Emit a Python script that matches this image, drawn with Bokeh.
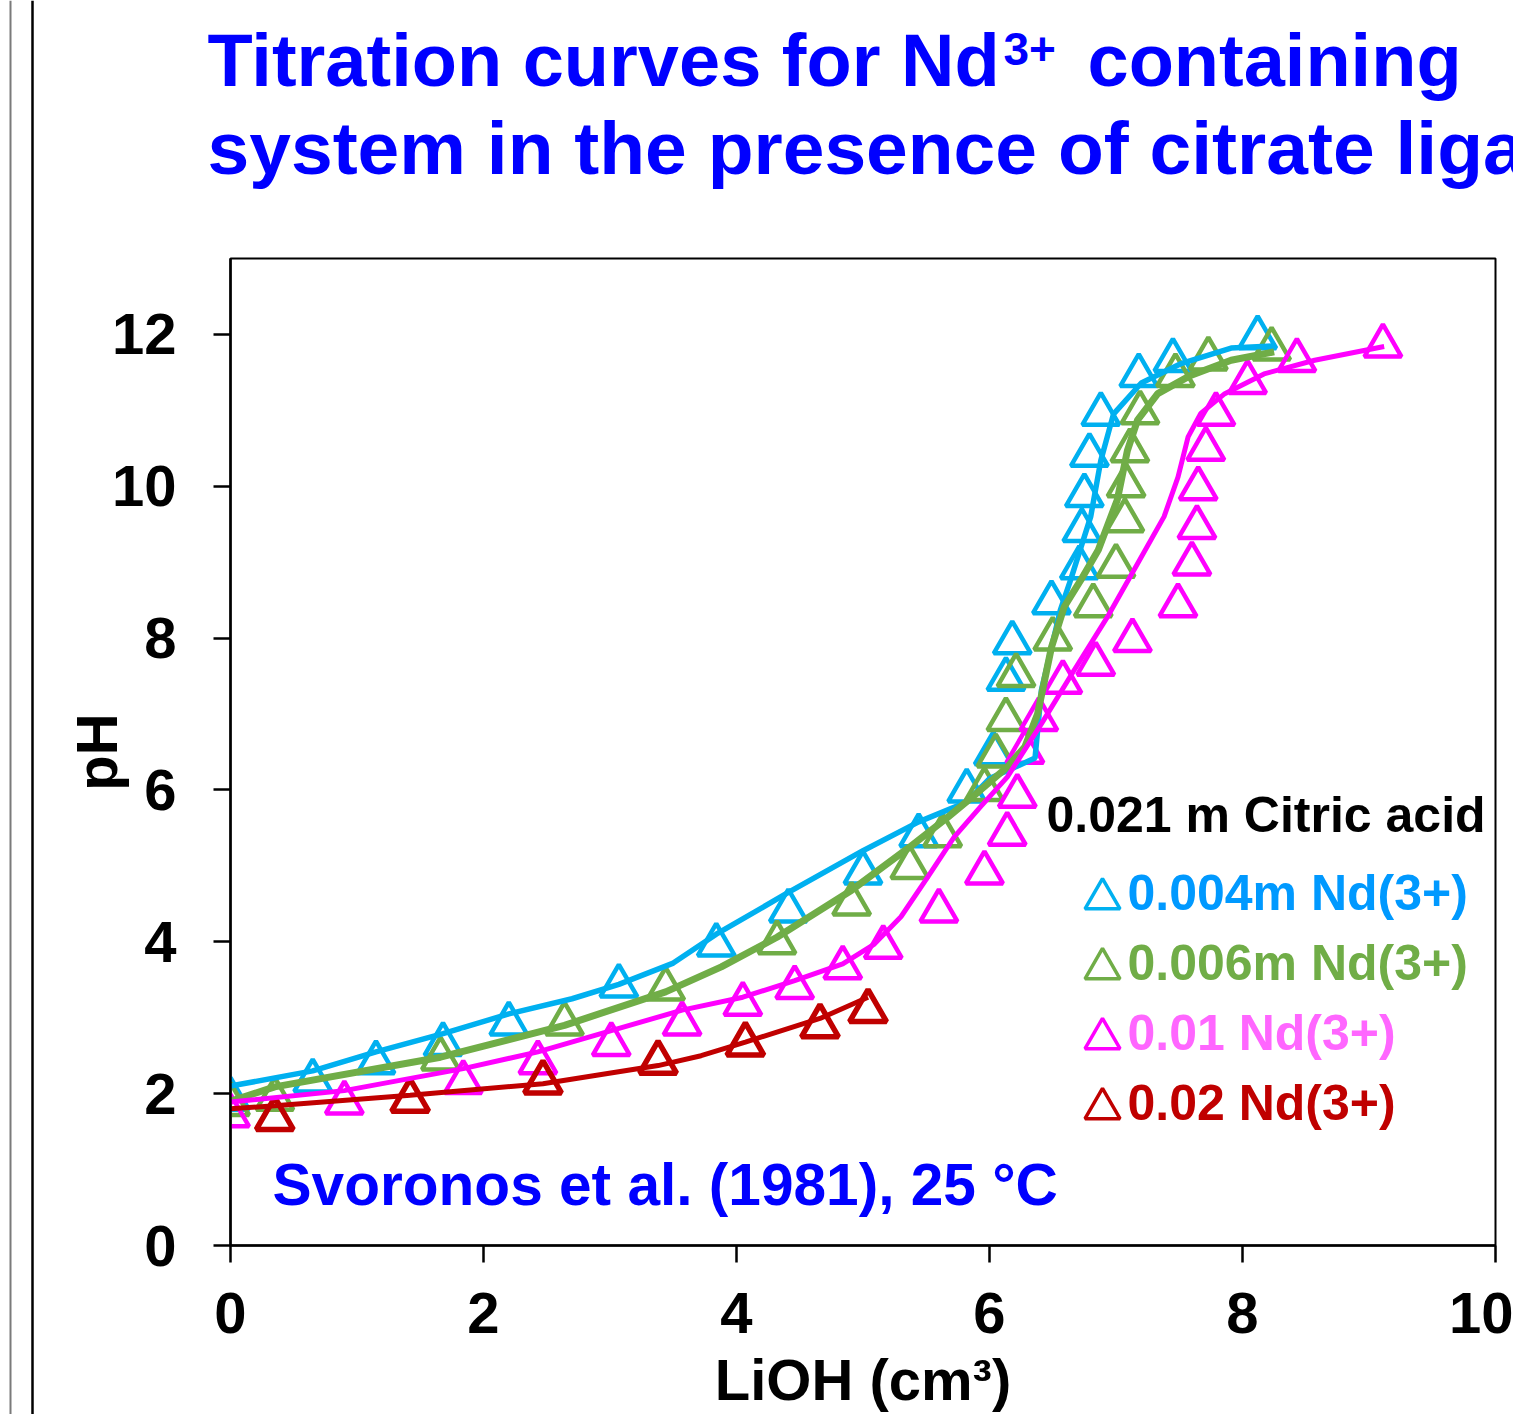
import math
from bokeh.plotting import figure
from bokeh.models import Range1d, Label, Span, ColumnDataSource, FixedTicker
from bokeh.layouts import row, column
from bokeh.transform import dodge
from bokeh.embed import file_html
from bokeh.resources import INLINE

# ---------------- data ----------------
x_ticks = [0, 2, 4, 6, 8, 10]
y_ticks = [0, 2, 4, 6, 8, 10, 12]

# 0.004 m Nd(3+) measured points
nd004_x = [0, 0.65, 1.15, 1.68, 2.2, 3.07, 3.84, 4.41, 5.0, 5.44, 5.82, 6.03, 6.13, 6.18,
           6.49, 6.71, 6.73, 6.75, 6.79, 6.88, 7.18, 7.45, 8.12]
nd004_y = [2.0, 2.24, 2.48, 2.72, 2.99, 3.49, 4.03, 4.48, 4.98, 5.47, 6.06, 6.55, 7.53, 8.01,
           8.54, 9.0, 9.49, 9.95, 10.48, 11.02, 11.53, 11.73, 12.03]
# 0.006 m Nd(3+)
nd006_x = [0, 0.35, 1.66, 2.64, 3.44, 4.32, 4.91, 5.37, 5.63, 5.96, 6.05, 6.13, 6.21, 6.5,
           6.82, 7.0, 7.07, 7.08, 7.11, 7.19, 7.47, 7.73, 8.23]
nd006_y = [1.93, 2.0, 2.53, 2.99, 3.45, 4.06, 4.57, 5.05, 5.47, 6.08, 6.52, 7.0, 7.58, 8.06,
           8.5, 9.02, 9.62, 10.08, 10.54, 11.04, 11.53, 11.75, 11.88]
# 0.01 Nd(3+)
nd01_x = [0, 0.9, 1.84, 2.43, 3.01, 3.57, 4.05, 4.46, 4.84, 5.16, 5.6, 5.96, 6.14, 6.22, 6.28,
          6.39, 6.58, 6.84, 7.13, 7.49, 7.6, 7.64, 7.65, 7.71, 7.79, 8.04, 8.43, 9.11]
nd01_y = [1.78, 1.95, 2.22, 2.48, 2.72, 2.99, 3.25, 3.47, 3.73, 4.0, 4.48, 4.98, 5.49, 5.99, 6.57,
          7.0, 7.49, 7.73, 8.04, 8.5, 9.05, 9.53, 10.04, 10.56, 11.02, 11.44, 11.73, 11.92]
# 0.02 Nd(3+)
nd02_x = [0.35, 1.42, 2.47, 3.38, 4.07, 4.66, 5.04]
nd02_y = [1.74, 1.98, 2.22, 2.48, 2.72, 2.96, 3.16]

# model curves
fit004_x = [0, 0.65, 1.15, 1.68, 2.2, 2.7, 3.07, 3.5, 3.84, 4.41, 5.0, 5.44, 5.82, 6.0, 6.2,
            6.36, 6.41, 6.56, 6.64, 6.8, 6.88, 6.98, 7.2, 7.52, 7.91, 8.25]
fit004_y = [2.1, 2.3, 2.55, 2.79, 3.05, 3.25, 3.44, 3.72, 4.1, 4.65, 5.2, 5.58, 5.84, 6.15,
            6.3, 6.42, 7.31, 8.37, 8.76, 9.6, 10.34, 10.95, 11.36, 11.62, 11.82, 11.85]
fit006_x = [0, 0.35, 1.66, 2.64, 3.44, 3.88, 4.32, 4.91, 5.37, 5.67, 5.93, 6.14, 6.28, 6.38,
            6.49, 6.59, 6.72, 6.86, 7.01, 7.09, 7.17, 7.33, 7.59, 7.91, 8.25]
fit006_y = [1.9, 2.09, 2.48, 2.9, 3.34, 3.67, 4.06, 4.68, 5.25, 5.64, 6.0, 6.3, 6.57, 7.0,
            7.88, 8.41, 8.76, 9.16, 9.82, 10.47, 10.87, 11.22, 11.46, 11.66, 11.77]
fit01_x = [0, 0.9, 1.84, 2.43, 3.01, 3.57, 4.05, 4.46, 4.84, 5.09, 5.3, 5.51, 5.72, 5.93, 6.14,
           6.41, 6.67, 6.94, 7.17, 7.38, 7.49, 7.57, 7.67, 7.86, 8.17, 8.57, 9.12]
fit01_y = [1.89, 2.04, 2.33, 2.55, 2.83, 3.1, 3.27, 3.49, 3.71, 3.97, 4.33, 4.85, 5.38, 5.78, 6.17,
           6.87, 7.58, 8.3, 8.98, 9.6, 10.12, 10.65, 10.96, 11.22, 11.48, 11.66, 11.84]
fit02_x = [0, 0.35, 1.42, 2.47, 3.38, 3.72, 4.07, 4.66, 5.04]
fit02_y = [1.8, 1.84, 1.98, 2.13, 2.37, 2.5, 2.68, 2.99, 3.27]

series_names = ["0.004m Nd(3+)", "0.006m Nd(3+)", "0.01 Nd(3+)", "0.02 Nd(3+)"]
marker_colors = ["#00B0F0", "#70AD47", "#FF00FF", "#C00000"]
text_colors = ["#0099FF", "#70AD47", "#FF66FF", "#C00000"]

# ---------------- layout helpers ----------------
FONT = "Liberation Sans"
W_DECO = 38
W_TOTAL = 1513
W_MAIN = W_TOTAL - W_DECO
H = 1414
H_TITLE = 250
FRAME_L, FRAME_R, FRAME_T, FRAME_B = 230, 1495, 258, 1246   # page pixels
BASE_FIX = 0.335   # em offset between Label anchor and drawn baseline


def bare_fig(w, h):
    f = figure(width=w, height=h, x_range=Range1d(0, w), y_range=Range1d(0, h),
               x_axis_location=None, y_axis_location=None, toolbar_location=None,
               output_backend="svg", min_border=0, outline_line_color=None)
    f.frame_align = False
    f.grid.visible = False
    return f


# ---------------- decoration strip (slide edge) ----------------
deco = bare_fig(W_DECO, H)
deco.add_layout(Span(location=10, dimension="height", line_color="#7a7a7a", line_width=2))
deco.add_layout(Span(location=32, dimension="height", line_color="black", line_width=2.5))

# ---------------- title strip ----------------
tfig = bare_fig(W_MAIN, H_TITLE)


def title_label(text, px, py, size):
    tfig.add_layout(Label(x=px - W_DECO, y=H_TITLE - (py - BASE_FIX * size),
                          x_units="screen", y_units="screen",
                          text=text, text_font=FONT, text_font_style="bold",
                          text_font_size=f"{size}px", text_color="#0000FF",
                          text_align="left", text_baseline="alphabetic"))


title_label("Titration curves for Nd", 207, 85, 74)
title_label("3+", 1003, 64, 46)
title_label("containing", 1087, 85, 74)
title_label("system in the presence of citrate ligand", 207, 173, 75)

# ---------------- main plot ----------------
p = figure(width=W_MAIN, height=H - H_TITLE, x_range=Range1d(0, 10), y_range=Range1d(0, 13),
           toolbar_location=None, output_backend="svg",
           min_border_left=FRAME_L - W_DECO, min_border_right=W_TOTAL - FRAME_R,
           min_border_top=FRAME_T - H_TITLE, min_border_bottom=H - FRAME_B)
p.frame_align = False
p.grid.visible = False
p.outline_line_color = "black"
p.outline_line_width = 2
p.background_fill_color = "white"
p.border_fill_color = "white"

for ax, ticks in ((p.xaxis[0], x_ticks), (p.yaxis[0], y_ticks)):
    ax.ticker = FixedTicker(ticks=ticks)
    ax.axis_line_width = 2.5
    ax.major_tick_line_width = 2.5
    ax.major_tick_in = 0
    ax.major_tick_out = 17
    ax.minor_tick_line_color = None
    ax.major_label_text_font = FONT
    ax.major_label_text_font_style = "bold"
    ax.major_label_text_font_size = "58px"
    ax.major_label_text_color = "black"
    ax.axis_label_text_font = FONT
    ax.axis_label_text_font_style = "bold"
    ax.axis_label_text_font_size = "58px"
    ax.axis_label_text_color = "black"
p.xaxis.major_label_standoff = 30
p.yaxis.major_label_standoff = 37
p.xaxis.axis_label = "LiOH (cm\u00b3)"
p.yaxis.axis_label = "pH"
p.xaxis.axis_label_standoff = 11
p.yaxis.axis_label_standoff = -20

pts = [(nd004_x, nd004_y), (nd006_x, nd006_y), (nd01_x, nd01_y), (nd02_x, nd02_y)]
fits = [(fit004_x, fit004_y), (fit006_x, fit006_y), (fit01_x, fit01_y), (fit02_x, fit02_y)]
MSIZE = 37
shift = -(MSIZE * math.sqrt(3) / 2) / 6 / ((FRAME_B - FRAME_T) / 13.0)

for (xs, ys), col, lw in zip(pts, marker_colors, [4.5, 4.5, 4.5, 5.5]):
    src = ColumnDataSource(dict(x=xs, y=ys))
    p.scatter(x="x", y=dodge("y", shift), source=src, marker="triangle", size=MSIZE,
              fill_alpha=0, line_color=col, line_width=lw)

for (xs, ys), col, lw in zip(fits, marker_colors, [5.5, 7, 5, 5]):
    p.line(xs, ys, line_color=col, line_width=lw)


def add_label(text, px, py, size, color):
    # screen units, measured from the frame's left / bottom edge
    p.add_layout(Label(x=px - FRAME_L, y=FRAME_B - (py - BASE_FIX * size),
                       x_units="screen", y_units="screen",
                       text=text, text_font=FONT, text_font_style="bold",
                       text_font_size=f"{size}px", text_color=color, text_align="left",
                       text_baseline="alphabetic"))


# annotation
add_label("Svoronos et al. (1981), 25 \u00b0C", 272, 1205, 58.6, "#0000FF")

# legend block
add_label("0.021 m Citric acid", 1046, 832, 50, "black")
LSIZE = 35
lh = LSIZE * math.sqrt(3) / 2
for i, (name, mcol, tcol) in enumerate(zip(series_names, marker_colors, text_colors)):
    base = 910 + 70 * i
    add_label(name, 1127, base, 50, tcol)
    p.scatter(x=[(1102 - FRAME_L) / (FRAME_R - FRAME_L) * 10.0],
              y=[(FRAME_B - (base - lh / 3 - 1)) / (FRAME_B - FRAME_T) * 13.0],
              marker="triangle", size=LSIZE, fill_alpha=0, line_color=mcol, line_width=3.5)

layout = row(deco, column(tfig, p, spacing=0), spacing=0)
open("out.html", "w").write(file_html(layout, INLINE))
